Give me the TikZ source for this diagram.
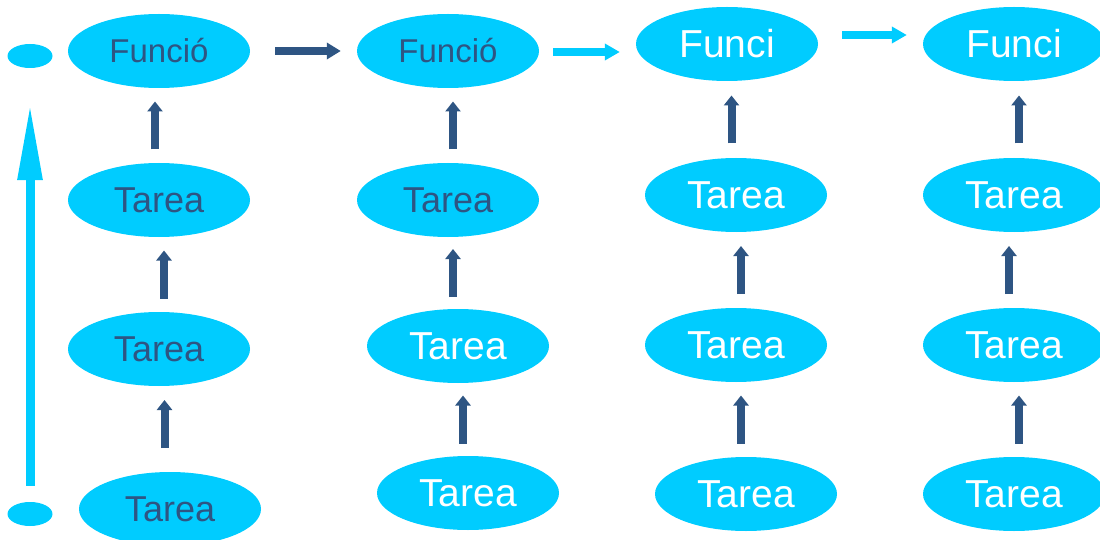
\documentclass[tikz,border=0pt]{standalone}
\usepackage{fontspec}
\setmainfont{Liberation Sans}
\usetikzlibrary{arrows.meta,calc,shapes.geometric}
\definecolor{cian}{RGB}{0,204,255}
\definecolor{azuloscuro}{RGB}{46,85,131}

\begin{document}
\begin{tikzpicture} [x = 1pt, y = -1pt,
  elipse/.style = {ellipse, fill = cian, inner sep = 0pt, minimum width = 182pt, minimum height = 74pt},
  punto/.style = {ellipse, fill = cian, inner sep = 0pt, minimum width = 45pt, minimum height = 24pt},
  oscuro/.style = {text = azuloscuro, font = \fontsize{36}{40}\selectfont},
  claro/.style = {text = white, font = \fontsize{39}{44}\selectfont},
  subida/.style = {draw = azuloscuro, line width = 8pt, -{Triangle[length=10pt, width=15pt]}},
  flechaosc/.style = {draw = azuloscuro, line width = 8pt, -{Triangle[length=14pt, width=16pt]}},
  flechacian/.style = {draw = cian, line width = 8pt, -{Triangle[length=15pt, width=16pt]}},
  flechagrande/.style = {draw = cian, line width = 9pt, -{Triangle[length=77pt, width=23pt]}}]
\useasboundingbox (0, 0) rectangle (1100, 540);
\node[punto] (s1) at (30, 56){};
\node[punto] (s2) at (30, 514){};
\node[elipse, oscuro, font = \fontsize{33}{38}\selectfont] (f1) at (159, 51){Funció};
\node[elipse, oscuro] (t11) at (159, 200){Tarea};
\node[elipse, oscuro] (t12) at (159, 349){Tarea};
\node[elipse, oscuro] (t13) at (170, 509){Tarea};
\node[elipse, oscuro, font = \fontsize{33}{38}\selectfont] (f2) at (448, 51){Funció};
\node[elipse, oscuro] (t21) at (448, 200){Tarea};
\node[elipse, claro] (t22) at (458, 346){Tarea};
\node[elipse, claro] (t23) at (468, 493){Tarea};
\node[elipse, claro] (f3) at (727, 44){Funci};
\node[elipse, claro] (t31) at (736, 195){Tarea};
\node[elipse, claro] (t32) at (736, 345){Tarea};
\node[elipse, claro] (t33) at (746, 494){Tarea};
\node[elipse, claro] (f4) at (1014, 44){Funci};
\node[elipse, claro] (t41) at (1014, 195){Tarea};
\node[elipse, claro] (t42) at (1014, 345){Tarea};
\node[elipse, claro] (t43) at (1014, 494){Tarea};
% flechas hacia arriba dentro de cada columna
\foreach \a/\b/\dx/\dy in {t13/t12/0/-5, t12/t11/5/0, t11/f1/-4/0, t23/t22/0/0, t22/t21/0/0, t21/f2/5/0,
    t33/t32/0/0, t32/t31/5/0, t31/f3/0/0, t43/t42/5/0, t42/t41/-5/0, t41/f4/5/0}
  \draw[subida] ($(\a.north)!0.5!(\b.south) + (\dx, \dy)$) +(0, 24) -- +(0, -24);
% flechas entre funciones
\draw[flechaosc] ([xshift = 25pt]f1.east) -- ([xshift = -16pt]f1.east -| f2.west);
\draw[flechacian] ([xshift = 14pt, yshift = -1pt]f2.east) -- ([xshift = -16pt, yshift = -1pt]f2.east -| f3.west);
\draw[flechacian] ([xshift = 24pt, yshift = 9pt]f3.east) -- ([xshift = -16pt, yshift = 9pt]f3.east -| f4.west);
\draw[flechagrande] ([yshift = 16pt]s2.north) -- ([yshift = -35pt]s1.south);
\end{tikzpicture}
\end{document}
